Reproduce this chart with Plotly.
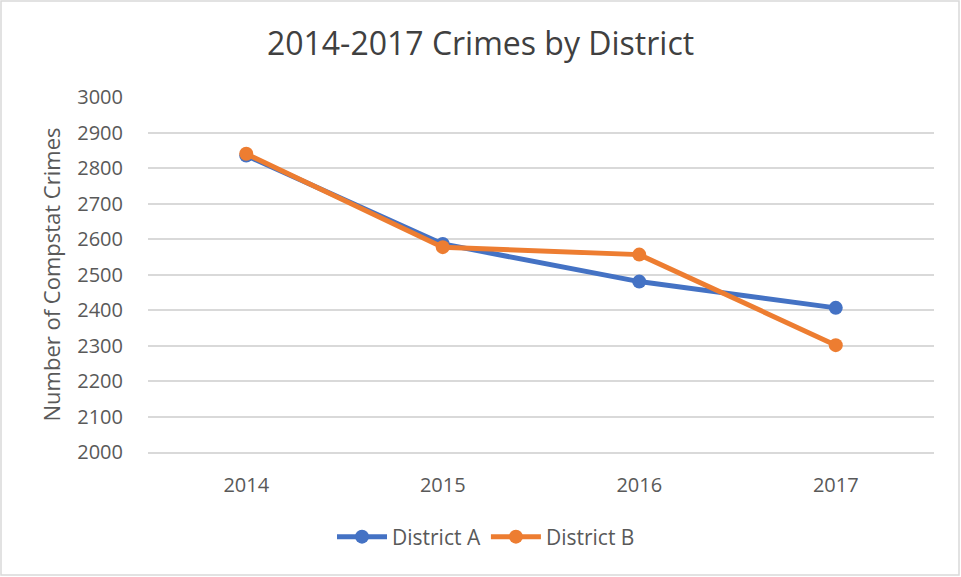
import plotly.graph_objects as go

years = ["2014", "2015", "2016", "2017"]
district_a = [2835, 2586, 2480, 2406]
district_b = [2840, 2577, 2556, 2301]
y_ticks = list(range(2000, 3001, 100))

W, H = 961, 577
L, R, T, B = 148, 27, 97, 125
pw, ph = W - L - R, H - T - B

fig = go.Figure()
fig.add_trace(go.Scatter(x=years, y=district_a, name="District A", mode="lines+markers",
                         line=dict(color="#4472C4", width=5), marker=dict(size=14, color="#4472C4")))
fig.add_trace(go.Scatter(x=years, y=district_b, name="District B", mode="lines+markers",
                         line=dict(color="#ED7D31", width=5), marker=dict(size=14, color="#ED7D31")))

def px_x(p):
    return (p - L) / pw

def px_y(p):
    return (H - B - p) / ph

fig.add_shape(type="rect", xref="paper", yref="paper",
              x0=px_x(1), x1=px_x(959), y0=px_y(575), y1=px_y(1),
              line=dict(color="#D9D9D9", width=1.5), fillcolor="rgba(0,0,0,0)", layer="below")

fig.update_layout(
    width=W, height=H,
    margin=dict(l=L, r=R, t=T, b=B, autoexpand=False),
    paper_bgcolor="white", plot_bgcolor="white",
    font=dict(family="Open Sans, Lato, sans-serif", color="#595959", size=20),
    title=dict(text="2014-2017 Crimes by District", x=0.5, xanchor="center",
               y=1 - 44 / H, yanchor="middle", font=dict(size=32, color="#404040")),
    xaxis=dict(type="category", showgrid=False, showline=True, linecolor="#D9D9D9", linewidth=1.5,
               ticks="", tickfont=dict(size=20, color="#595959"), range=[-0.5, 3.5],
               ticklabelstandoff=14),
    yaxis=dict(range=[2000, 3000], tickvals=y_ticks, showgrid=True, gridcolor="#D9D9D9", gridwidth=1.5,
               zeroline=False, showline=False, tickfont=dict(size=20, color="#595959"),
               ticklabelstandoff=24,
               title=dict(text="Number of Compstat Crimes", font=dict(size=22, color="#595959"), standoff=10)),
    legend=dict(orientation="h", x=px_x(486), xanchor="center", y=px_y(537), yanchor="middle",
                font=dict(size=21, color="#595959"), itemwidth=50),
    showlegend=True,
)

fig.write_html("out.html")
